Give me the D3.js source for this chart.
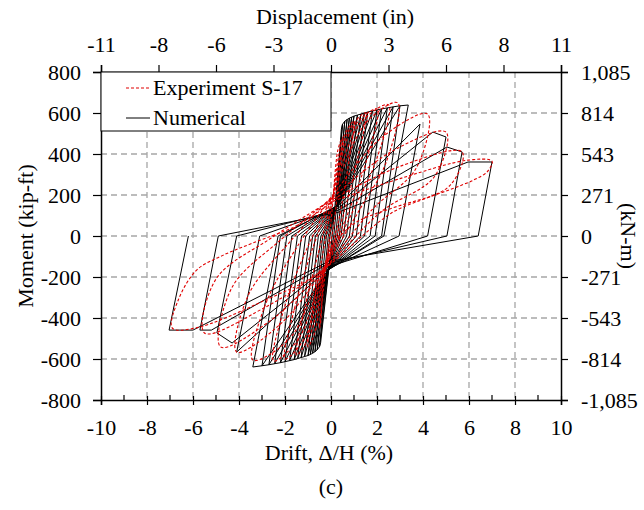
<!DOCTYPE html>
<meta charset="utf-8">
<style>
  body { margin: 0; background: #fff; }
  text { font-family: "Liberation Serif", "Times New Roman", Times, serif; fill: #000; }
  .grid line { stroke: #a6a6a6; stroke-width: 1.3px; stroke-dasharray: 6,4; }
  .num { fill: none; stroke: #000; stroke-width: 1px; }
  .exp { fill: none; stroke: #e00000; stroke-width: 1.1px; stroke-dasharray: 3,2; }
</style>
<body>
<div id="chart"></div>
<script src="https://d3js.org/d3.v7.min.js"></script>
<script>
// axis tick labels
var driftTicks = [-10, -8, -6, -4, -2, 0, 2, 4, 6, 8, 10];
var momentTicks = [-800, -600, -400, -200, 0, 200, 400, 600, 800];
var dispLabels = ["-11", "-8", "-6", "-3", "0", "3", "6", "8", "11"];
var knmLabels = ["-1,085", "-814", "-543", "-271", "0", "271", "543", "814", "1,085"];

// numerical model: one row per cycle (drift %, moment kip-ft)
var posPinchD = [0.2, 0.22, 0.24, 0.26, 0.28, 0.3, 0.3, 0.3, 0.3, 0.3, 0.3, 0.3, 0.3, 0.3, 0.3, 0.3, 0.3, 0.3, 0.3, 0.3, 0.3];
var posPinchM = [150, 150, 150, 150, 150, 150, 150, 150, 150, 150, 150, 150, 150, 150, 150, 150, 150, 145, 135, 125, 115];
var posEntryD = [0.45, 0.5, 0.6, 0.7, 0.8, 0.9, 1.0, 1.15, 1.3, 1.45, 1.6, 1.8, 2.0, 2.2, 2.45, 2.7, 3.0, 3.87, 4.43, 5.04, 5.96];
var posEntryM = [520, 545, 560, 568, 575, 580, 585, 590, 595, 600, 605, 610, 615, 620, 625, 630, 635, 546, 507, 434, 361];
var posPeakD  = [0.5, 0.6, 0.7, 0.8, 0.9, 1.0, 1.15, 1.3, 1.45, 1.6, 1.8, 2.0, 2.2, 2.45, 2.7, 3.0, 3.36, 3.87, 5.0, 5.7, 7.0];
var posPeakM  = [545, 560, 568, 575, 580, 585, 590, 595, 600, 605, 610, 615, 620, 625, 630, 635, 639, 546, 483, 410, 361];
var posZeroD  = [0.05, 0.12, 0.2, 0.28, 0.36, 0.44, 0.55, 0.68, 0.8, 0.93, 1.1, 1.28, 1.46, 1.7, 1.92, 2.2, 2.3, 2.96, 4.2, 5.04, 6.4];
var negPinchD = [-0.1, -0.11, -0.12, -0.13, -0.13, -0.13, -0.13, -0.13, -0.13, -0.13, -0.13, -0.13, -0.13, -0.13, -0.13, -0.13, -0.13, -0.13, -0.13, -0.13, -0.13];
var negPinchM = [-166, -166, -166, -166, -166, -166, -166, -166, -166, -166, -166, -166, -166, -166, -166, -166, -166, -160, -150, -135, -125];
var negEntryD = [-0.45, -0.5, -0.6, -0.7, -0.8, -0.9, -1.0, -1.15, -1.3, -1.45, -1.6, -1.8, -2.0, -2.2, -2.45, -2.7, -3.0, -4.1, -4.3, -5.2, -6.0];
var negEntryM = [-520, -540, -555, -565, -572, -578, -583, -588, -593, -598, -603, -608, -613, -618, -623, -628, -633, -566, -522, -459, -459];
var negPeakD  = [-0.5, -0.6, -0.7, -0.8, -0.9, -1.0, -1.15, -1.3, -1.45, -1.6, -1.8, -2.0, -2.2, -2.45, -2.7, -3.0, -3.4, -4.1, -4.96, -5.7, -7.04];
var negPeakM  = [-540, -555, -565, -572, -578, -583, -588, -593, -598, -603, -608, -613, -618, -623, -628, -633, -639, -566, -473, -459, -459];
var negZeroD  = [-0.05, -0.12, -0.2, -0.28, -0.36, -0.44, -0.55, -0.68, -0.8, -0.93, -1.1, -1.28, -1.46, -1.7, -1.92, -2.2, -2.3, -3.1, -4.1, -4.9, -6.2];

// experiment S-17: one loop per entry
var expLoops = [
  [[0.1,190],[0.3,420],[0.5,480],[0.35,300],[0.1,40],[-0.3,-170],[-0.45,-420],[-0.5,-450],[-0.35,-280],[-0.1,-40],[0.1,190]],
  [[0.1,195],[0.5,470],[1.0,560],[0.8,380],[0.3,60],[-0.3,-175],[-0.7,-470],[-1.0,-540],[-0.8,-360],[-0.3,-50],[0.1,195]],
  [[0.1,200],[0.7,500],[1.5,600],[1.2,400],[0.5,90],[-0.3,-180],[-0.9,-480],[-1.5,-580],[-1.2,-380],[-0.5,-60],[0.1,200]],
  [[0.1,200],[0.9,520],[2.0,620],[1.6,390],[0.7,100],[-0.35,-180],[-1.1,-490],[-2.0,-600],[-1.6,-360],[-0.8,-60],[0.1,200]],
  [[0.1,200],[1.2,540],[2.5,640],[2.0,380],[0.9,110],[-0.35,-180],[-1.4,-500],[-2.5,-610],[-2.0,-340],[-1.0,-50],[0.1,200]],
  [[0.1,200],[1.5,550],[2.9,650],[2.4,360],[1.2,120],[-0.4,-180],[-1.8,-500],[-3.4,-605],[-2.8,-320],[-1.4,-40],[0.1,200]],
  [[0.1,200],[2.2,480],[4.2,595],[3.7,330],[1.8,130],[-0.4,-180],[-2.2,-430],[-4.1,-566],[-3.6,-290],[-1.8,-30],[0.1,200]],
  [[0.1,190],[2.6,410],[5.0,507],[4.5,290],[2.2,120],[-0.4,-175],[-2.6,-410],[-4.8,-541],[-4.3,-250],[-2.2,-20],[0.1,190]],
  [[0.1,180],[3.0,340],[5.7,410],[5.2,250],[2.6,110],[-0.4,-170],[-2.9,-350],[-5.5,-473],[-5.0,-210],[-2.6,-10],[0.1,180]],
  [[0.1,170],[3.0,280],[5.96,370],[7.0,365],[6.8,314],[6.2,273],[5.3,232],[4.3,192],[2.5,130],[1.0,60],[0.0,-60],[-0.4,-165],[-3.0,-320],[-5.9,-449],[-6.9,-449],[-6.64,-312],[-5.84,-166],[-4.83,-101],[-3.4,-34],[-1.5,50],[0.1,170]]
];

var width = 644, height = 510;
var margin = {top: 72, right: 83, bottom: 110, left: 101};
var serif = "'Liberation Serif', 'Times New Roman', Times, serif";

var x = d3.scaleLinear().domain([-10, 10]).range([margin.left, width - margin.right]);
var y = d3.scaleLinear().domain([-800, 800]).range([height - margin.bottom, margin.top]);
var xTop = d3.scaleLinear().domain([0, dispLabels.length - 1]).range(x.range());
var yRight = d3.scaleLinear().domain([0, knmLabels.length - 1]).range(y.range());

var svg = d3.select("#chart").append("svg")
    .attr("width", width)
    .attr("height", height);

// grid
var grid = svg.append("g").attr("class", "grid");
grid.selectAll(".gx").data(driftTicks.slice(1, -1)).enter().append("line")
    .attr("x1", function (d) { return x(d); }).attr("x2", function (d) { return x(d); })
    .attr("y1", y(800)).attr("y2", y(-800));
grid.selectAll(".gy").data(momentTicks.slice(1, -1)).enter().append("line")
    .attr("y1", function (d) { return y(d); }).attr("y2", function (d) { return y(d); })
    .attr("x1", x(-10)).attr("x2", x(10));

svg.append("clipPath").attr("id", "plotclip").append("rect")
    .attr("x", x(-10)).attr("y", y(800)).attr("width", x(10) - x(-10)).attr("height", y(-800) - y(800));
var plot = svg.append("g").attr("clip-path", "url(#plotclip)");

// numerical loops
var numPath = [];
for (var i = 0; i < posPeakD.length; i++) {
  numPath.push([posPinchD[i], posPinchM[i]]);
  numPath.push([posEntryD[i], posEntryM[i]]);
  numPath.push([posPeakD[i], posPeakM[i]]);
  numPath.push([posZeroD[i], 0]);
  numPath.push([negPinchD[i], negPinchM[i]]);
  numPath.push([negEntryD[i], negEntryM[i]]);
  numPath.push([negPeakD[i], negPeakM[i]]);
  numPath.push([negZeroD[i], 0]);
}

var line = d3.line()
    .x(function (d) { return x(d[0]); })
    .y(function (d) { return y(d[1]); });
var smooth = d3.line()
    .x(function (d) { return x(d[0]); })
    .y(function (d) { return y(d[1]); })
    .curve(d3.curveCatmullRom.alpha(0.5));

plot.append("path").attr("class", "num").attr("d", line(numPath));
plot.selectAll(".exp").data(expLoops).enter().append("path")
    .attr("class", "exp").attr("d", smooth);

// axes
function styleAxis(g) {
  g.attr("font-family", serif).attr("font-size", 22);
  g.select(".domain").attr("stroke", "#000").attr("stroke-width", 1.5);
  g.selectAll(".tick line").attr("stroke", "#000").attr("stroke-width", 1.2);
  g.selectAll(".tick text").style("font-size", "22px").style("font-family", serif);
}

var bottomAx = svg.append("g")
    .attr("transform", "translate(0," + y(-800) + ")")
    .call(d3.axisBottom(x).tickValues(driftTicks).tickFormat(String)
      .tickSizeOuter(0).tickSize(5).tickPadding(14));
bottomAx.call(styleAxis);
bottomAx.selectAll(".tick line").attr("y1", -4);
// minor ticks
svg.append("g").selectAll("line").data(d3.range(-9, 10, 2)).enter().append("line")
    .attr("x1", function (d) { return x(d); }).attr("x2", function (d) { return x(d); })
    .attr("y1", y(-800) - 5).attr("y2", y(-800))
    .attr("stroke", "#000").attr("stroke-width", 1.2);

var leftAx = svg.append("g")
    .attr("transform", "translate(" + x(-10) + ",0)")
    .call(d3.axisLeft(y).tickValues(momentTicks).tickFormat(String)
      .tickSizeOuter(0).tickSize(8).tickPadding(12));
leftAx.call(styleAxis);

var topAx = svg.append("g")
    .attr("transform", "translate(0," + y(800) + ")")
    .call(d3.axisTop(xTop).tickValues(d3.range(dispLabels.length))
      .tickFormat(function (i) { return dispLabels[i]; }).tickSizeOuter(0).tickSize(7).tickPadding(13));
topAx.call(styleAxis);

var rightAx = svg.append("g")
    .attr("transform", "translate(" + x(10) + ",0)")
    .call(d3.axisRight(yRight).tickValues(d3.range(knmLabels.length))
      .tickFormat(function (i) { return knmLabels[i]; }).tickSizeOuter(0).tickSize(7).tickPadding(13));
rightAx.call(styleAxis);

// axis titles
function title(sel) {
  return sel.attr("text-anchor", "middle").style("font-size", "22px").style("font-family", serif);
}
svg.append("text").attr("x", 335).attr("y", 24).call(title).text("Displacement (in)");
svg.append("text").attr("x", 329).attr("y", 460).call(title).text("Drift, \u0394/H (%)");
svg.append("text").attr("x", 331).attr("y", 494).call(title).text("(c)");
svg.append("text").attr("transform", "translate(33," + y(0) + ") rotate(-90)").call(title).text("Moment (kip-ft)");
svg.append("text").attr("transform", "translate(621," + y(0) + ") rotate(90)").call(title).text("(kN-m)");

// legend
var lg = svg.append("g");
lg.append("rect").attr("x", x(-10)).attr("y", y(800)).attr("width", x(0) - x(-10)).attr("height", 59)
    .attr("fill", "#fff").attr("stroke", "#000").attr("stroke-width", 1);
lg.append("line").attr("class", "exp").attr("x1", 126).attr("x2", 150).attr("y1", 88).attr("y2", 88);
lg.append("text").attr("x", 153).attr("y", 95).style("font-size", "22px").style("font-family", serif)
    .text("Experiment S-17");
lg.append("line").attr("class", "num").attr("x1", 126).attr("x2", 150).attr("y1", 118).attr("y2", 118);
lg.append("text").attr("x", 153).attr("y", 125).style("font-size", "22px").style("font-family", serif)
    .text("Numerical");
</script>
</body>
